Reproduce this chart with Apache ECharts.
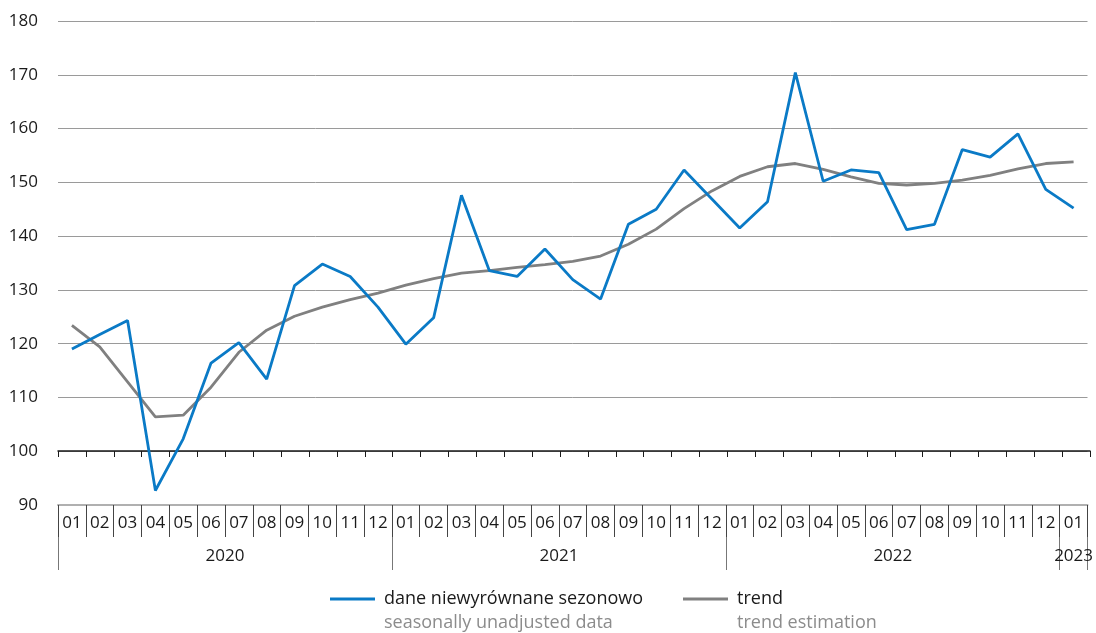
<!DOCTYPE html>
<html>
<head>
<meta charset="utf-8">
<title>dane niewyrównane sezonowo / trend</title>
<script src="https://cdn.jsdelivr.net/npm/echarts@6.0.0/dist/echarts.min.js"></script>
<style>
  html, body { margin: 0; padding: 0; background: #fff; }
  #chart { width: 1096px; height: 633px; }
</style>
</head>
<body>
<div id="chart"></div>
<script>
// miesiace 2020-01 .. 2023-01
var months = ['01','02','03','04','05','06','07','08','09','10','11','12',
              '01','02','03','04','05','06','07','08','09','10','11','12',
              '01','02','03','04','05','06','07','08','09','10','11','12',
              '01'];
var years = ['2020','2020','2020','2020','2020','2020','2020','2020','2020','2020','2020','2020',
             '2021','2021','2021','2021','2021','2021','2021','2021','2021','2021','2021','2021',
             '2022','2022','2022','2022','2022','2022','2022','2022','2022','2022','2022','2022',
             '2023'];

// dane niewyrownane sezonowo
var unadjusted = [119.0, 121.7, 124.3, 92.7, 102.3, 116.4, 120.2, 113.4, 130.8, 134.8, 132.5, 126.8,
                  119.9, 124.8, 147.6, 133.6, 132.5, 137.6, 131.9, 128.3, 142.2, 145.0, 152.3, 146.9,
                  141.5, 146.4, 170.4, 150.2, 152.3, 151.8, 141.2, 142.2, 156.1, 154.7, 159.0, 148.7,
                  145.2];
// trend
var trend = [123.4, 119.4, 112.9, 106.4, 106.7, 111.9, 118.4, 122.5, 125.1, 126.8, 128.2, 129.4,
             130.9, 132.1, 133.1, 133.6, 134.2, 134.7, 135.3, 136.3, 138.5, 141.3, 145.1, 148.4,
             151.1, 152.9, 153.5, 152.4, 151.0, 149.8, 149.5, 149.8, 150.4, 151.3, 152.5, 153.5,
             153.8];

var seriesNames = ['dane niewyrównane sezonowo', 'trend'];
var seriesNamesEn = ['seasonally unadjusted data', 'trend estimation'];
var yTicks = { min: 90, max: 180, step: 10 };

var font = 'Open Sans';
var txt = '#1a1a1a';

function legendFmt(name) {
  var en = seriesNamesEn[seriesNames.indexOf(name)];
  return '{e| }\n{a|' + name + '}\n{b|' + en + '}';
}
var legendRich = {
  e: { fontSize: 18, lineHeight: 24 },
  a: { fontSize: 18, lineHeight: 24, color: txt, fontFamily: font, padding: [0, 0, 0, 4] },
  b: { fontSize: 18, lineHeight: 24, color: '#8c8c8c', fontFamily: font, padding: [0, 0, 0, 4] }
};

var chart = echarts.init(document.getElementById('chart'));
chart.setOption({
  animation: false,
  textStyle: { fontFamily: font },
  grid: [
    { left: 58, right: 6, top: 21, bottom: 128 },
    // os przy 100
    { left: 58, right: 6, top: 21, bottom: 182 }
  ],
  legend: [
    {
      data: [seriesNames[0]],
      left: 330, top: 566, padding: 0,
      icon: 'rect', itemWidth: 45, itemHeight: 3,
      formatter: legendFmt,
      textStyle: { rich: legendRich }
    },
    {
      data: [seriesNames[1]],
      left: 683, top: 566, padding: 0,
      icon: 'rect', itemWidth: 45, itemHeight: 3,
      formatter: legendFmt,
      textStyle: { rich: legendRich }
    }
  ],
  xAxis: [
    {
      type: 'category',
      gridIndex: 0,
      data: months,
      position: 'bottom',
      axisLine: { lineStyle: { color: '#b0b0b0', width: 2 } },
      axisTick: { show: true, length: 32, lineStyle: { color: '#444', width: 1 } },
      axisLabel: { color: txt, fontSize: 17, margin: 10, interval: 0 }
    },
    {
      type: 'category',
      gridIndex: 0,
      data: years,
      position: 'bottom',
      offset: 32,
      axisLine: { show: false },
      axisTick: {
        show: true, length: 33,
        interval: function (i) { return i % 12 === 0; },
        lineStyle: { color: '#777', width: 1 }
      },
      axisLabel: {
        color: txt, fontSize: 17, margin: 11,
        interval: function (i) { return i === 5 || i === 17 || i === 29 || i === 36; },
        formatter: function (v, i) {
          return i === 36 ? '{n|' + v + '}' : '{s|' + v + '}';
        },
        rich: {
          s: { fontSize: 17, color: txt, fontFamily: font, padding: [0, 0, 0, 28] },
          n: { fontSize: 17, color: txt, fontFamily: font }
        }
      }
    },
    {
      type: 'category',
      gridIndex: 1,
      data: months,
      axisLine: { lineStyle: { color: '#1a1a1a', width: 1.5 } },
      axisTick: { show: true, length: 6, lineStyle: { color: '#1a1a1a', width: 1 } },
      axisLabel: { show: false }
    }
  ],
  yAxis: [
    {
      type: 'value',
      gridIndex: 0,
      min: yTicks.min, max: yTicks.max, interval: yTicks.step,
      axisLine: { show: false },
      axisTick: { show: false },
      axisLabel: { color: txt, fontSize: 17, margin: 20 },
      splitLine: { lineStyle: { color: '#9a9a9a', width: 1 } }
    },
    {
      type: 'value',
      gridIndex: 1,
      min: 0, max: 1,
      show: false,
      splitLine: { show: false }
    }
  ],
  series: [
    {
      name: seriesNames[0],
      type: 'line',
      xAxisIndex: 0, yAxisIndex: 0,
      data: unadjusted,
      showSymbol: false,
      z: 4,
      itemStyle: { color: '#0a7ac6' },
      lineStyle: { color: '#0a7ac6', width: 2.8 }
    },
    {
      name: seriesNames[1],
      type: 'line',
      xAxisIndex: 0, yAxisIndex: 0,
      data: trend,
      showSymbol: false,
      z: 3,
      itemStyle: { color: '#808080' },
      lineStyle: { color: '#808080', width: 2.8 }
    }
  ]
});
</script>
</body>
</html>
